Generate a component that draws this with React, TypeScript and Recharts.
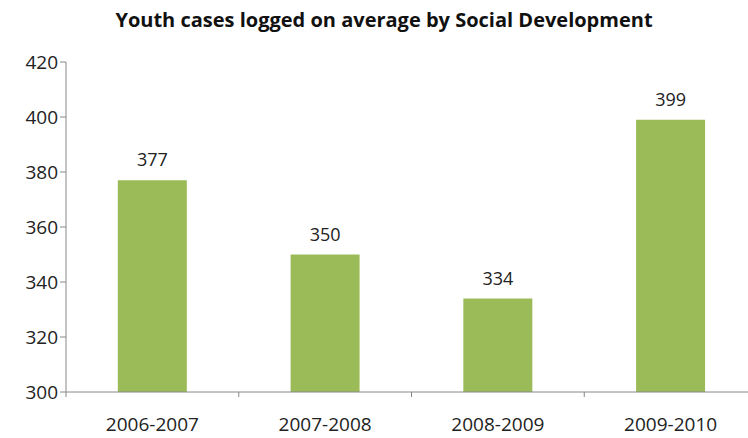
// @ts-nocheck
import React from "react";
import { BarChart, Bar, XAxis, YAxis, LabelList } from "recharts";

const periods = ["2006-2007", "2007-2008", "2008-2009", "2009-2010"];
const avgCases = [377, 350, 334, 399];
const yTicks = [300, 320, 340, 360, 380, 400, 420];

const data = periods.map((period, i) => ({ period, cases: avgCases[i] }));

const FONT = "'Open Sans', 'Liberation Sans', sans-serif";
const AXIS = "#888888";
const BAR = "#9BBB59";

function PeriodTick({ x, y, payload }) {
  const half = payload.offset || 0;
  return (
    <g>
      <line x1={x - half} y1={y - 8} x2={x - half} y2={y - 3} stroke={AXIS} />
      <text x={x} y={y + 31} textAnchor="middle" fontSize={19} fill="#222" fontFamily={FONT}>
        {payload.value}
      </text>
    </g>
  );
}

export default function App() {
  return (
    <div style={{ position: "absolute", left: 0, top: 0, width: 748, height: 438, overflow: "hidden", background: "#fff" }}>
      <div
        style={{
          position: "absolute",
          top: 7,
          left: 0,
          width: 768,
          textAlign: "center",
          fontFamily: FONT,
          fontWeight: 700,
          fontSize: 20,
          color: "#111",
          lineHeight: "26px",
        }}
      >
        Youth cases logged on average by Social Development
      </div>
      <BarChart
        width={760}
        height={438}
        data={data}
        margin={{ top: 62, right: 3, left: 0, bottom: 16 }}
        barCategoryGap="30%"
      >
        <XAxis
          dataKey="period"
          height={30}
          axisLine={{ stroke: AXIS }}
          tickLine={false}
          tick={<PeriodTick />}
          interval={0}
        />
        <YAxis
          width={66}
          domain={[300, 420]}
          ticks={yTicks}
          interval={0}
          allowDataOverflow
          axisLine={{ stroke: AXIS }}
          tickLine={{ stroke: AXIS }}
          tickSize={6}
          tick={{ fontSize: 19, fill: "#222", fontFamily: FONT }}
        />
        <Bar dataKey="cases" fill={BAR} isAnimationActive={false}>
          <LabelList
            dataKey="cases"
            position="top"
            offset={14}
            style={{ fontSize: 18, fill: "#222", fontFamily: FONT }}
          />
        </Bar>
      </BarChart>
    </div>
  );
}
